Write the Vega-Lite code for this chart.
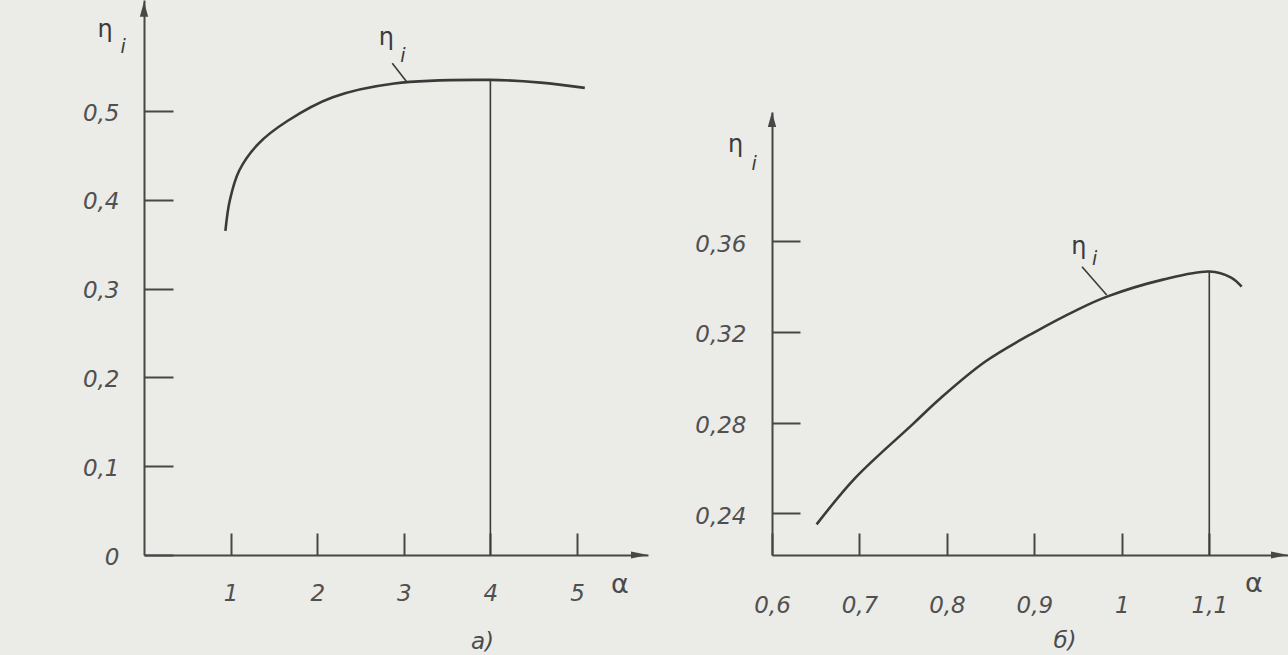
{
  "$schema": "https://vega.github.io/schema/vega-lite/v6.json",
  "width": 1288,
  "height": 655,
  "autosize": {"type": "none"},
  "padding": 0,
  "background": "#ebebe8",
  "config": {
    "view": {"stroke": null},
    "axis": {
      "grid": false,
      "domainColor": "#474747",
      "domainWidth": 2,
      "tickColor": "#474747",
      "tickWidth": 2,
      "labelFont": "DejaVu Sans",
      "labelFontStyle": "italic",
      "labelFontSize": 23,
      "labelColor": "#505050",
      "labelFlush": false,
      "labelOverlap": false
    }
  },
  "datasets": {
    "curveA": [
      {"a": 0.94, "eta": 0.365},
      {"a": 0.99, "eta": 0.399},
      {"a": 1.1, "eta": 0.433},
      {"a": 1.32, "eta": 0.463},
      {"a": 1.66, "eta": 0.489},
      {"a": 2.18, "eta": 0.5155},
      {"a": 2.89, "eta": 0.531},
      {"a": 4.0, "eta": 0.535},
      {"a": 4.58, "eta": 0.532},
      {"a": 5.09, "eta": 0.526}
    ],
    "vlineA": [{"a": 4.0, "eta": 0, "eta2": 0.535}],
    "leaderA": [{"a": 2.867, "eta": 0.5537, "a2": 3.033, "eta2": 0.533}],
    "arrowsA": [{"a": 0, "eta": 0.623, "dir": "up"}, {"a": 5.82, "eta": 0, "dir": "right"}],
    "textsA": [
      {"a": -0.45, "eta": 0.583, "t": "η", "kind": "eta"},
      {"a": -0.24, "eta": 0.5653, "t": "i", "kind": "sub"},
      {"a": 2.8, "eta": 0.5743, "t": "η", "kind": "eta"},
      {"a": 2.99, "eta": 0.5552, "t": "i", "kind": "sub"},
      {"a": 5.497, "eta": -0.0428, "t": "α", "kind": "alpha"},
      {"a": 3.909, "eta": -0.1059, "t": "а)", "kind": "cap"}
    ],
    "curveB": [
      {"a": 0.651, "eta": 0.2351},
      {"a": 0.695, "eta": 0.2555},
      {"a": 0.761, "eta": 0.2793},
      {"a": 0.792, "eta": 0.2905},
      {"a": 0.844, "eta": 0.3069},
      {"a": 0.901, "eta": 0.32},
      {"a": 0.949, "eta": 0.3297},
      {"a": 0.983, "eta": 0.3355},
      {"a": 1.047, "eta": 0.343},
      {"a": 1.1, "eta": 0.3466},
      {"a": 1.125, "eta": 0.3439},
      {"a": 1.137, "eta": 0.3399}
    ],
    "vlineB": [{"a": 1.1, "eta": 0.2216, "eta2": 0.3466}],
    "leaderB": [{"a": 0.9545, "eta": 0.3487, "a2": 0.9827, "eta2": 0.3362}],
    "arrowsB": [{"a": 0.6, "eta": 0.4169, "dir": "up"}, {"a": 1.19, "eta": 0.2216, "dir": "right"}],
    "textsB": [
      {"a": 0.5583, "eta": 0.3993, "t": "η", "kind": "eta"},
      {"a": 0.5795, "eta": 0.3913, "t": "i", "kind": "sub"},
      {"a": 0.951, "eta": 0.3543, "t": "η", "kind": "eta"},
      {"a": 0.969, "eta": 0.3495, "t": "i", "kind": "sub"},
      {"a": 1.151, "eta": 0.2053, "t": "α", "kind": "alpha"},
      {"a": 0.935, "eta": 0.1806, "t": "б)", "kind": "cap"}
    ]
  },
  "layer": [
    {
      "layer": [
        {
          "data": {"name": "curveA"},
          "mark": {"type": "line", "interpolate": "catmull-rom", "color": "#3a3a3a", "strokeWidth": 2.6},
          "encoding": {
            "x": {
              "field": "a", "type": "quantitative",
              "scale": {"domain": [0, 5.82], "range": [144, 648], "nice": false, "zero": false},
              "axis": {"orient": "bottom", "offset": -100, "values": [1, 2, 3, 4, 5], "title": null,
                       "tickSize": -22, "labelPadding": 60, "labelBaseline": "middle",
                       "format": "~g", "labelExpr": "replace(datum.label, '.', ',')"}
            },
            "y": {
              "field": "eta", "type": "quantitative",
              "scale": {"domain": [0, 0.625], "range": [555, 0], "nice": false, "zero": false},
              "axis": {"orient": "left", "offset": -144, "values": [0, 0.1, 0.2, 0.3, 0.4, 0.5], "title": null,
                       "tickSize": -29, "labelPadding": 54, "labelBaseline": "middle", "labelOffset": 2,
                       "format": "~g", "labelExpr": "replace(datum.label, '.', ',')"}
            }
          }
        },
        {
          "data": {"name": "vlineA"},
          "mark": {"type": "rule", "color": "#3a3a3a", "strokeWidth": 1.6},
          "encoding": {
            "x": {"field": "a", "type": "quantitative"},
            "y": {"field": "eta", "type": "quantitative"},
            "y2": {"field": "eta2"}
          }
        },
        {
          "data": {"name": "leaderA"},
          "mark": {"type": "rule", "color": "#3a3a3a", "strokeWidth": 1.6},
          "encoding": {
            "x": {"field": "a", "type": "quantitative"},
            "y": {"field": "eta", "type": "quantitative"},
            "x2": {"field": "a2"},
            "y2": {"field": "eta2"}
          }
        },
        {
          "data": {"name": "arrowsA"},
          "mark": {"type": "point", "filled": true, "opacity": 1, "size": 400, "color": "#474747", "strokeWidth": 0},
          "encoding": {
            "x": {"field": "a", "type": "quantitative"},
            "y": {"field": "eta", "type": "quantitative"},
            "shape": {"field": "dir", "type": "nominal", "legend": null,
                      "scale": {"domain": ["up", "right"], "range": ["M0,0L-0.42,1.5L0.42,1.5Z", "M0,0L-1.7,-0.35L-1.7,0.35Z"]}}
          }
        },
        {
          "data": {"name": "textsA"},
          "transform": [{"filter": "datum.kind === 'eta'"}],
          "mark": {"type": "text", "font": "DejaVu Sans", "fontSize": 24, "color": "#3a3a3a", "align": "center", "baseline": "alphabetic"},
          "encoding": {
            "x": {"field": "a", "type": "quantitative"},
            "y": {"field": "eta", "type": "quantitative"},
            "text": {"field": "t"}
          }
        },
        {
          "data": {"name": "textsA"},
          "transform": [{"filter": "datum.kind === 'sub'"}],
          "mark": {"type": "text", "font": "DejaVu Sans", "fontSize": 19, "fontStyle": "italic", "color": "#3a3a3a", "align": "center", "baseline": "alphabetic"},
          "encoding": {
            "x": {"field": "a", "type": "quantitative"},
            "y": {"field": "eta", "type": "quantitative"},
            "text": {"field": "t"}
          }
        },
        {
          "data": {"name": "textsA"},
          "transform": [{"filter": "datum.kind === 'alpha'"}],
          "mark": {"type": "text", "font": "DejaVu Sans", "fontSize": 27, "color": "#4a4a4a", "align": "center", "baseline": "alphabetic"},
          "encoding": {
            "x": {"field": "a", "type": "quantitative"},
            "y": {"field": "eta", "type": "quantitative"},
            "text": {"field": "t"}
          }
        },
        {
          "data": {"name": "textsA"},
          "transform": [{"filter": "datum.kind === 'cap'"}],
          "mark": {"type": "text", "font": "DejaVu Sans", "fontSize": 23, "fontStyle": "italic", "color": "#4a4a4a", "align": "center", "baseline": "alphabetic"},
          "encoding": {
            "x": {"field": "a", "type": "quantitative"},
            "y": {"field": "eta", "type": "quantitative"},
            "text": {"field": "t"}
          }
        }
      ]
    },
    {
      "layer": [
        {
          "data": {"name": "curveB"},
          "mark": {"type": "line", "interpolate": "catmull-rom", "color": "#3a3a3a", "strokeWidth": 2.6},
          "encoding": {
            "x": {
              "field": "a", "type": "quantitative",
              "scale": {"domain": [0.6, 1.19], "range": [772, 1288], "nice": false, "zero": false},
              "axis": {"orient": "bottom", "offset": -100, "values": [0.6, 0.7, 0.8, 0.9, 1, 1.1], "title": null,
                       "tickSize": -22, "labelPadding": 72, "labelBaseline": "middle",
                       "format": "~g", "labelExpr": "replace(datum.label, '.', ',')"}
            },
            "y": {
              "field": "eta", "type": "quantitative",
              "scale": {"domain": [0.2216, 0.4169], "range": [555, 112], "nice": false, "zero": false},
              "axis": {"orient": "left", "offset": -772, "values": [0.24, 0.28, 0.32, 0.36], "title": null,
                       "tickSize": -28, "labelPadding": 54, "labelBaseline": "middle", "labelOffset": 3,
                       "format": "~g", "labelExpr": "replace(datum.label, '.', ',')"}
            }
          }
        },
        {
          "data": {"name": "vlineB"},
          "mark": {"type": "rule", "color": "#3a3a3a", "strokeWidth": 1.6},
          "encoding": {
            "x": {"field": "a", "type": "quantitative"},
            "y": {"field": "eta", "type": "quantitative"},
            "y2": {"field": "eta2"}
          }
        },
        {
          "data": {"name": "leaderB"},
          "mark": {"type": "rule", "color": "#3a3a3a", "strokeWidth": 1.6},
          "encoding": {
            "x": {"field": "a", "type": "quantitative"},
            "y": {"field": "eta", "type": "quantitative"},
            "x2": {"field": "a2"},
            "y2": {"field": "eta2"}
          }
        },
        {
          "data": {"name": "arrowsB"},
          "mark": {"type": "point", "filled": true, "opacity": 1, "size": 400, "color": "#474747", "strokeWidth": 0},
          "encoding": {
            "x": {"field": "a", "type": "quantitative"},
            "y": {"field": "eta", "type": "quantitative"},
            "shape": {"field": "dir", "type": "nominal", "legend": null,
                      "scale": {"domain": ["up", "right"], "range": ["M0,0L-0.42,1.5L0.42,1.5Z", "M0,0L-1.7,-0.35L-1.7,0.35Z"]}}
          }
        },
        {
          "data": {"name": "textsB"},
          "transform": [{"filter": "datum.kind === 'eta'"}],
          "mark": {"type": "text", "font": "DejaVu Sans", "fontSize": 24, "color": "#3a3a3a", "align": "center", "baseline": "alphabetic"},
          "encoding": {
            "x": {"field": "a", "type": "quantitative"},
            "y": {"field": "eta", "type": "quantitative"},
            "text": {"field": "t"}
          }
        },
        {
          "data": {"name": "textsB"},
          "transform": [{"filter": "datum.kind === 'sub'"}],
          "mark": {"type": "text", "font": "DejaVu Sans", "fontSize": 19, "fontStyle": "italic", "color": "#3a3a3a", "align": "center", "baseline": "alphabetic"},
          "encoding": {
            "x": {"field": "a", "type": "quantitative"},
            "y": {"field": "eta", "type": "quantitative"},
            "text": {"field": "t"}
          }
        },
        {
          "data": {"name": "textsB"},
          "transform": [{"filter": "datum.kind === 'alpha'"}],
          "mark": {"type": "text", "font": "DejaVu Sans", "fontSize": 27, "color": "#4a4a4a", "align": "center", "baseline": "alphabetic"},
          "encoding": {
            "x": {"field": "a", "type": "quantitative"},
            "y": {"field": "eta", "type": "quantitative"},
            "text": {"field": "t"}
          }
        },
        {
          "data": {"name": "textsB"},
          "transform": [{"filter": "datum.kind === 'cap'"}],
          "mark": {"type": "text", "font": "DejaVu Sans", "fontSize": 23, "fontStyle": "italic", "color": "#4a4a4a", "align": "center", "baseline": "alphabetic"},
          "encoding": {
            "x": {"field": "a", "type": "quantitative"},
            "y": {"field": "eta", "type": "quantitative"},
            "text": {"field": "t"}
          }
        }
      ]
    }
  ],
  "resolve": {
    "scale": {"x": "independent", "y": "independent"},
    "axis": {"x": "independent", "y": "independent"}
  }
}
